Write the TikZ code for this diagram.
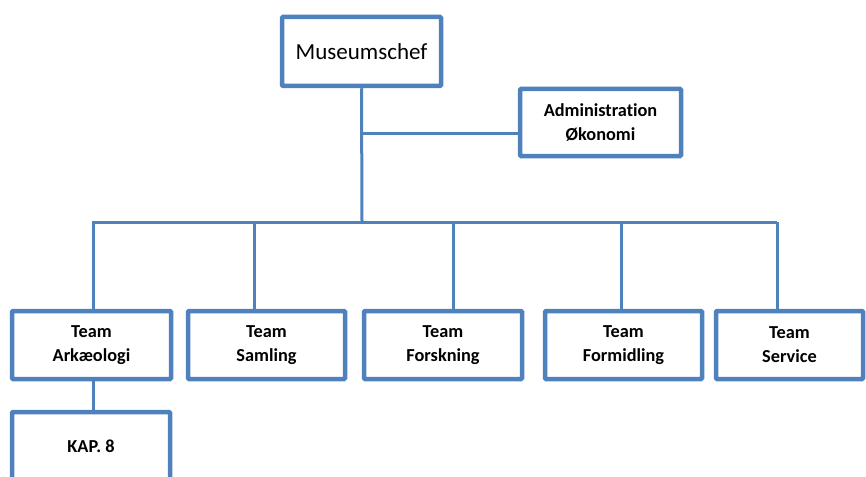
\documentclass[tikz,border=0pt]{standalone}
\usepackage{fontspec}
\setmainfont{Carlito}[Ligatures={NoCommon}]
\definecolor{obox}{HTML}{4F81BD}
\begin{document}
\begin{tikzpicture}[x=1pt,y=-1pt,
  box/.style={draw=obox,line width=4.5pt,fill=white,rounded corners=1pt,align=center,inner sep=0pt},
  small/.style={box,font=\fontsize{18.3}{24}\selectfont\bfseries},
  conn/.style={draw=obox,line width=3pt}]
\useasboundingbox (0,0) rectangle (866,476);
\coordinate (br) at (362,133);
\coordinate (bus) at (362,222);
\coordinate (bl) at (92,222);
\coordinate (bR) at (777,222);
\coordinate (d1) at (93,222);
\coordinate (d2) at (254,222);
\coordinate (d3) at (453,222);
\coordinate (d4) at (621,222);
\coordinate (d5) at (777,222);
\coordinate (k1) at (93,381);
\node[box,minimum width=159pt,minimum height=69pt,font=\fontsize{23}{28}\selectfont] (boss) at (361.5,51.5) {Museumschef};
\node[small,minimum width=161pt,minimum height=67pt] (adm) at (600.5,122.5) {Administration\\Økonomi};
\node[small,minimum width=159pt,minimum height=68pt] (ark) at (91.5,345) {Team\\Arkæologi};
\node[small,minimum width=157pt,minimum height=68pt] (sam) at (266.5,345) {Team\\Samling};
\node[small,minimum width=158pt,minimum height=68pt] (fors) at (443,345) {Team\\Forskning};
\node[small,minimum width=157pt,minimum height=68pt] (form) at (623.5,345) {Team\\Formidling};
\node[small,minimum width=147pt,minimum height=68pt] (serv) at (789.5,345) {Team\\Service};
\node[small,minimum width=158pt,minimum height=68pt] (kap) at (91,446) {KAP. 8};
\draw[conn] (boss.south) -- (bus);
\draw[conn] (br) -- (br -| adm.west);
\draw[conn] (bl) -- (bR);
\draw[conn] (d1) -- (d1 |- ark.north);
\draw[conn] (d2) -- (d2 |- sam.north);
\draw[conn] (d3) -- (d3 |- fors.north);
\draw[conn] (d4) -- (d4 |- form.north);
\draw[conn] (d5) -- (d5 |- serv.north);
\draw[conn] (ark.south -| k1) -- (k1 |- kap.north);
\end{tikzpicture}
\end{document}
